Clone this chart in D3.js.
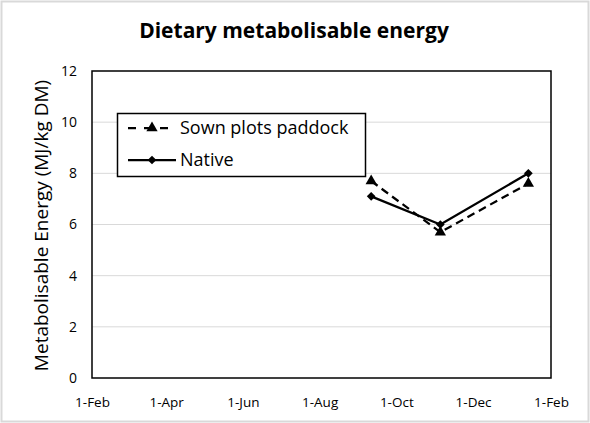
<!DOCTYPE html>
<html>
<head>
<meta charset="utf-8">
<script src="https://cdn.jsdelivr.net/npm/d3@7"></script>
<style>
  body { margin: 0; background: #fff; }
  text { font-family: "Open Sans", "Noto Sans", sans-serif; fill: #000; }
</style>
</head>
<body>
<div id="chart"></div>
<script>
// data
const sampleDates = ["2021-09-11", "2021-11-05", "2022-01-14"];
const sownValues = [7.7, 5.7, 7.6];
const nativeValues = [7.1, 6.0, 8.0];
const yTicks = [0, 2, 4, 6, 8, 10, 12];
const xTicks = ["2021-02-01", "2021-04-01", "2021-06-01", "2021-08-01", "2021-10-01", "2021-12-01", "2022-02-01"];

const width = 590, height = 423;
const margin = { top: 71, right: 39, bottom: 45, left: 92 };
const innerW = width - margin.left - margin.right;
const innerH = height - margin.top - margin.bottom;

const parse = d3.timeParse("%Y-%m-%d");

const svg = d3.select("#chart").append("svg")
    .attr("width", width)
    .attr("height", height);

// outer chart frame
svg.append("rect")
    .attr("x", 1.5).attr("y", 1.5)
    .attr("width", width - 3).attr("height", height - 3)
    .attr("fill", "#fff")
    .attr("stroke", "#d9d9d9")
    .attr("stroke-width", 2);

svg.append("text")
    .attr("x", 294).attr("y", 38)
    .attr("text-anchor", "middle")
    .attr("font-size", 21)
    .attr("font-weight", "bold")
    .text("Dietary metabolisable energy");

const g = svg.append("g")
    .attr("transform", `translate(${margin.left},${margin.top})`);

const x = d3.scaleTime()
    .domain([parse(xTicks[0]), parse(xTicks[xTicks.length - 1])])
    .range([0, innerW]);

const y = d3.scaleLinear()
    .domain([0, 12])
    .range([innerH, 0]);

// gridlines
g.append("g")
    .selectAll("line")
    .data(yTicks.filter(t => t > 0 && t < 12))
    .enter().append("line")
    .attr("x1", 0).attr("x2", innerW)
    .attr("y1", d => y(d)).attr("y2", d => y(d))
    .attr("stroke", "#d9d9d9")
    .attr("stroke-width", 1);

// y axis labels
const yAxis = g.append("g")
    .call(d3.axisLeft(y).tickValues(yTicks).tickSize(0).tickPadding(15));
yAxis.select(".domain").remove();
yAxis.selectAll("text")
    .style("font-size", "14px")
    .style("font-family", "'Open Sans', sans-serif");

// x axis labels
const xAxis = g.append("g")
    .attr("transform", `translate(0,${innerH})`)
    .call(d3.axisBottom(x)
        .tickValues(xTicks.map(parse))
        .tickFormat(d3.timeFormat("%-d-%b"))
        .tickSize(0)
        .tickPadding(19));
xAxis.select(".domain").remove();
xAxis.selectAll("text")
    .style("font-size", "13.5px")
    .style("font-family", "'Open Sans', sans-serif");

// plot area border
g.append("rect")
    .attr("width", innerW).attr("height", innerH)
    .attr("fill", "none")
    .attr("stroke", "#000")
    .attr("stroke-width", 1.5);

svg.append("text")
    .attr("transform", `translate(48,${margin.top + innerH / 2 + 1}) rotate(-90)`)
    .attr("text-anchor", "middle")
    .attr("font-size", 19)
    .text("Metabolisable Energy (MJ/kg DM)");

const sown = sampleDates.map((d, i) => ({ date: parse(d), value: sownValues[i] }));
const native = sampleDates.map((d, i) => ({ date: parse(d), value: nativeValues[i] }));

const line = d3.line()
    .x(d => x(d.date))
    .y(d => y(d.value));

const tri = d3.symbol().type(d3.symbolTriangle).size(55);
const dia = d3.symbol().type(d3.symbolSquare).size(38);

g.append("path")
    .datum(sown)
    .attr("d", line)
    .attr("fill", "none")
    .attr("stroke", "#000")
    .attr("stroke-width", 2.25)
    .attr("stroke-dasharray", "8,5");

g.append("path")
    .datum(native)
    .attr("d", line)
    .attr("fill", "none")
    .attr("stroke", "#000")
    .attr("stroke-width", 2.25);

g.selectAll(".tri")
    .data(sown)
    .enter().append("path")
    .attr("class", "tri")
    .attr("d", tri)
    .attr("transform", d => `translate(${x(d.date)},${y(d.value)})`)
    .attr("fill", "#000");

g.selectAll(".dia")
    .data(native)
    .enter().append("path")
    .attr("class", "dia")
    .attr("d", dia)
    .attr("transform", d => `translate(${x(d.date)},${y(d.value)}) rotate(45)`)
    .attr("fill", "#000");

// legend
const legend = svg.append("g");
legend.append("rect")
    .attr("x", 117.5).attr("y", 113.5)
    .attr("width", 248).attr("height", 63)
    .attr("fill", "#fff")
    .attr("stroke", "#000")
    .attr("stroke-width", 1.5);

const legendItems = [
    { label: "Sown plots paddock", dash: "8,8", symbol: tri, rot: 0, cy: 128 },
    { label: "Native", dash: null, symbol: dia, rot: 45, cy: 160 }
];

legendItems.forEach(item => {
    legend.append("line")
        .attr("x1", 128).attr("x2", 176)
        .attr("y1", item.cy).attr("y2", item.cy)
        .attr("stroke", "#000")
        .attr("stroke-width", 2.25)
        .attr("stroke-dasharray", item.dash);
    legend.append("path")
        .attr("d", item.symbol)
        .attr("transform", `translate(152,${item.cy}) rotate(${item.rot})`)
        .attr("fill", "#000");
    legend.append("text")
        .attr("x", 180).attr("y", item.cy)
        .attr("dy", "0.35em")
        .attr("font-size", 18)
        .text(item.label);
});
</script>
</body>
</html>
